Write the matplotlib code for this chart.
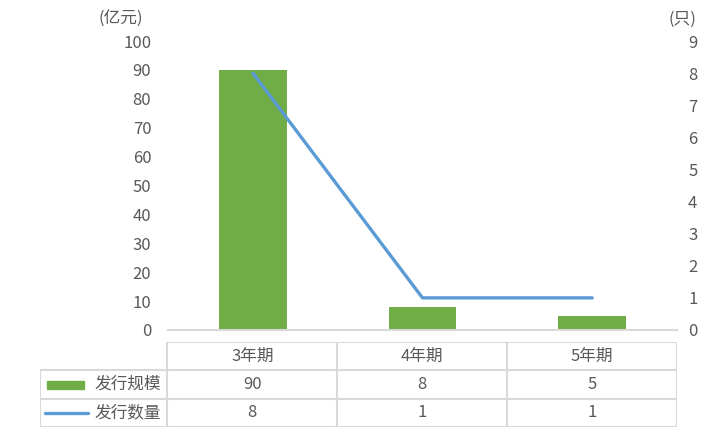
import numpy as np
import matplotlib as mpl
import matplotlib.pyplot as plt

mpl.rcParams['font.family'] = ['Noto Sans CJK SC', 'DejaVu Sans']
mpl.rcParams['font.size'] = 12

categories = ['3年期', '4年期', '5年期']
scale = [90, 8, 5]        # 发行规模 (亿元)
count = [8, 1, 1]         # 发行数量 (只)
left_ticks = list(range(0, 101, 10))
right_ticks = list(range(0, 10))

GREEN = '#70AD47'
BLUE = '#5B9BD5'
GRID = '#D9D9D9'
TXT = '#595959'

W, H = 720, 432
fig = plt.figure(figsize=(7.2, 4.32), dpi=100)

def px(x0, y0, x1, y1):
    # pixel box (top-left origin) -> figure fraction
    return [x0 / W, 1 - y1 / H, (x1 - x0) / W, (y1 - y0) / H]

x = np.arange(len(categories))

ax = fig.add_axes(px(168, 41, 677, 330))
ax.bar(x, scale, width=0.4, color=GREEN)
ax.set_xlim(-0.5, 2.5)
ax.set_ylim(0, 100)
ax.set_yticks(left_ticks)
ax.set_xticks([])
for s in ['top', 'right', 'left']:
    ax.spines[s].set_visible(False)
ax.spines['bottom'].set_color(GRID)
ax.spines['bottom'].set_linewidth(1.5)
ax.tick_params(axis='y', length=0, colors=TXT, labelsize=12, pad=12)
ax.patch.set_alpha(0)

ax2 = ax.twinx()
ax2.plot(x, count, color=BLUE, lw=2.4, solid_capstyle='round')
ax2.set_ylim(0, 9)
ax2.set_yticks(right_ticks)
for s in ax2.spines.values():
    s.set_visible(False)
ax2.tick_params(axis='y', length=0, colors=TXT, labelsize=12, pad=8)

fig.text(121 / W, 1 - 19 / H, '(亿元)', ha='center', va='center', color=TXT, fontsize=12)
fig.text(682 / W, 1 - 19 / H, '(只)', ha='center', va='center', color=TXT, fontsize=12)

# data table below
tb = fig.add_axes(px(40, 342, 677, 427))
tb.set_xlim(-1.25, 2.5)
tb.set_ylim(3, 0)
tb.axis('off')
lc = dict(color=GRID, lw=1.5)
tb.plot([-0.5, 2.5], [0, 0], **lc)
for yy in [1, 2, 3]:
    tb.plot([-1.25, 2.5], [yy, yy], **lc)
tb.plot([-1.25, -1.25], [1, 3], **lc)
for xx in [-0.5, 0.5, 1.5, 2.5]:
    tb.plot([xx, xx], [0, 3], **lc)
for i, c in enumerate(categories):
    tb.text(i, 0.5, c, ha='center', va='center', color=TXT, fontsize=12)
    tb.text(i, 1.5, str(scale[i]), ha='center', va='center', color=TXT, fontsize=12)
    tb.text(i, 2.5, str(count[i]), ha='center', va='center', color=TXT, fontsize=12)
tb.add_patch(plt.Rectangle((-1.21, 1.36), 0.22, 0.3, color=GREEN))
tb.plot([-1.22, -0.97], [2.5, 2.5], color=BLUE, lw=2.4, solid_capstyle='round')
tb.text(-0.93, 1.5, '发行规模', ha='left', va='center', color=TXT, fontsize=12)
tb.text(-0.93, 2.5, '发行数量', ha='left', va='center', color=TXT, fontsize=12)

fig.savefig('out.png', dpi=100)
